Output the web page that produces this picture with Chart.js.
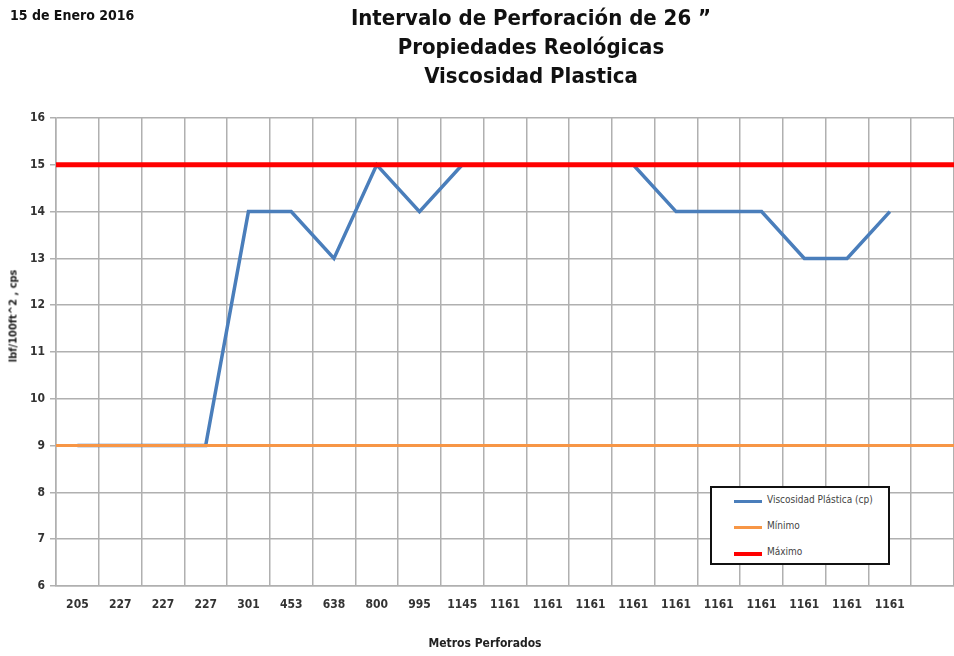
<!DOCTYPE html>
<html>
<head>
<meta charset="utf-8">
<script src="https://cdn.jsdelivr.net/npm/chart.js@4"></script>
<style>
  html, body { margin: 0; padding: 0; background: #fff; }
  #wrap { position: relative; width: 954px; height: 656px; overflow: hidden;
          font-family: "Liberation Sans Narrow", "DejaVu Sans Condensed", sans-serif; }
  #chart { position: absolute; left: 0; top: 0; }
  .fecha { position: absolute; left: 10px; top: 7px; font-size: 14px; font-weight: bold; color: #111; }
  .titulo { position: absolute; left: 331px; width: 400px; text-align: center;
            font-size: 22px; font-weight: bold; color: #111; line-height: 29px; top: 3px; }
  .ytitle { position: absolute; left: 13px; top: 316px; transform: translate(-50%, -50%) rotate(-90deg);
            font-size: 11px; font-weight: bold; color: #222; white-space: nowrap; }
  .xtitle { position: absolute; left: 485px; top: 643px; transform: translate(-50%, -50%);
            font-size: 12px; font-weight: bold; color: #222; white-space: nowrap; }
  #legend { position: absolute; left: 710px; top: 486px; width: 176px; height: 75px;
            border: 2px solid #111; background: #fff; }
  .item { position: absolute; left: 22px; height: 12px; font-size: 10px; color: #444; }
  .item span.sw { position: absolute; left: 0; top: 5px; width: 28px; }
  .item span.tx { position: absolute; left: 33px; top: -1px; white-space: nowrap; }
</style>
</head>
<body>
<div id="wrap">
  <canvas id="chart" width="954" height="656"></canvas>
  <div class="fecha">15 de Enero 2016</div>
  <div class="titulo">Intervalo de Perforación de 26 ”<br>Propiedades Reológicas<br>Viscosidad Plastica</div>
  <div class="ytitle">lbf/100ft^2 , cps</div>
  <div class="xtitle">Metros Perforados</div>
  <div id="legend"></div>
</div>
<script>
const metros = ["205", "227", "227", "227", "301", "453", "638", "800", "995", "1145",
                "1161", "1161", "1161", "1161", "1161", "1161", "1161", "1161", "1161", "1161", ""]
const viscosidad = [9, 9, 9, 9, 14, 14, 13, 15, 14, 15,
                    15, 15, 15, 15, 14, 14, 14, 13, 13, 14]
const minimo = 9
const maximo = 15
const yTicks = [6, 7, 8, 9, 10, 11, 12, 13, 14, 15, 16]

const seriesNames = ["Viscosidad Plástica (cp)", "Mínimo", "Máximo"]
const seriesColors = ["#4a7ebb", "#f79646", "#ff0000"]

const canvas = document.getElementById("chart")
const tickFont = { family: "'Liberation Sans Narrow', 'DejaVu Sans Condensed', sans-serif", size: 12, weight: "bold" }

new Chart(canvas, {
    type: "line",
    data: {
        labels: metros,
        datasets: [
            {
                label: seriesNames[0],
                data: viscosidad,
                borderColor: seriesColors[0],
                borderWidth: 3.5,
                pointRadius: 0,
                tension: 0,
                order: 3,
            },
            {
                label: seriesNames[1],
                data: [{ x: 0, y: minimo }, { x: 1, y: minimo }],
                xAxisID: "x2",
                borderColor: seriesColors[1],
                borderWidth: 3,
                pointRadius: 0,
                order: 2,
            },
            {
                label: seriesNames[2],
                data: [{ x: 0, y: maximo }, { x: 1, y: maximo }],
                xAxisID: "x2",
                borderColor: seriesColors[2],
                borderWidth: 5,
                pointRadius: 0,
                order: 1,
            },
        ],
    },
    options: {
        responsive: false,
        animation: false,
        layout: { padding: { top: 118, left: 0, right: 0, bottom: 0 } },
        plugins: {
            legend: { display: false },
            title: { display: false },
            tooltip: { enabled: false },
        },
        scales: {
            x: {
                offset: true,
                grid: { offset: true, color: "#b0b0b0", lineWidth: 1.5, drawTicks: false },
                border: { color: "#b0b0b0", width: 1.5 },
                ticks: { padding: 12, maxRotation: 0, autoSkip: false, color: "#333", font: tickFont },
                afterFit(scale) { scale.height = 70 },
            },
            x2: {
                type: "linear",
                display: false,
                min: 0,
                max: 1,
                offset: false,
            },
            y: {
                min: 6,
                max: 16,
                afterBuildTicks(scale) { scale.ticks = yTicks.map(v => ({ value: v })) },
                grid: { color: "#b0b0b0", lineWidth: 1.5, tickLength: 6 },
                border: { color: "#b0b0b0", width: 1.5 },
                ticks: { padding: 5, color: "#333", font: tickFont },
                afterFit(scale) { scale.width = 56 },
            },
        },
    },
})

// legend box inside the plot, as in the original
const legend = document.getElementById("legend")
const rowTops = [7, 33, 59]
const lineWidths = [3, 3, 4]
seriesNames.forEach((name, i) => {
    const item = document.createElement("div")
    item.className = "item"
    item.style.top = rowTops[i] + "px"
    item.innerHTML = '<span class="sw" style="border-top:' + lineWidths[i] + 'px solid ' +
        seriesColors[i] + '"></span><span class="tx">' + name + "</span>"
    legend.appendChild(item)
})
</script>
</body>
</html>
